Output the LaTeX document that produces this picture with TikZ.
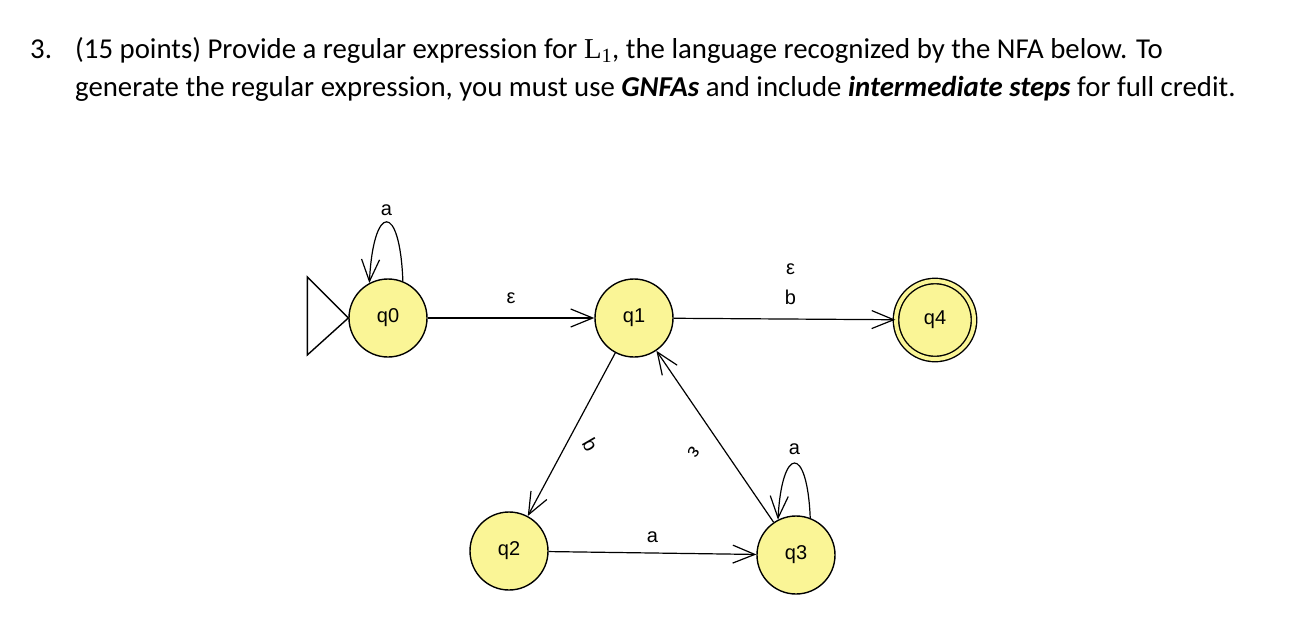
\documentclass[tikz,border=0pt]{standalone}
\usepackage{fontspec}
\setmainfont{Carlito}
\newfontfamily\jflapfont{Liberation Sans}
\newfontfamily\mathlike{Liberation Serif}
\usetikzlibrary{arrows.meta}
\definecolor{statefill}{RGB}{250,245,150}

\begin{document}
\begin{tikzpicture}[x=1pt,y=-1pt,
  nfastate/.style={draw,circle,fill=statefill,line width=1.4pt,minimum size=78pt,inner sep=0,
    font=\jflapfont\fontsize{20}{24}\selectfont},
  accepting/.style={double=statefill,double distance=4pt},
  edge/.style={line width=1.2pt,-{Straight Barb[length=22pt,width=18pt,line width=1.2pt]}},
  lbl/.style={font=\jflapfont\fontsize{20}{30}\selectfont,inner sep=1pt},
  qtext/.style={anchor=base west,inner sep=0,font=\fontsize{28.8}{38}\selectfont}]
  \useasboundingbox (0,0) rectangle (1315,638);
  % question text
  \node[qtext] (num) at (30,58) {3.};
  \node[qtext] (line1) at (75,58) {(15 points) Provide a regular expression for {\mathlike L\textsubscript{1}}, the language recognized by the NFA below. To};
  \node[qtext] (line2) at (75,96) {generate the regular expression, you must use \textbf{\textit{GNFAs}} and include \textbf{\textit{intermediate steps}} for full credit.};
  % states
  \node[nfastate] (q0) at (388,318) {q0};
  \node[nfastate] (q1) at (634,318) {q1};
  \node[nfastate,accepting] (q4) at (935,320) {q4};
  \node[nfastate] (q2) at (509,551) {q2};
  \node[nfastate] (q3) at (796,555) {q3};
  % start marker
  \draw[line width=1.4pt] (q0.west) -- ++(-41,-41) -- ++(0,78) -- cycle;
  % transitions
  \draw[edge] (q0) -- node[lbl,midway,yshift=20pt] {ε} (q1);
  \draw[edge] (q1) -- node[lbl,midway,xshift=6pt,yshift=35pt,align=center] {ε\\b} (q4);
  \draw[edge] (q1) -- node[lbl,pos=.56,xshift=24pt,rotate=-60] {b} (q2);
  \draw[edge] (q3) -- node[lbl,pos=.41,xshift=-32pt,rotate=-124] {ε} (q1);
  \draw[edge] (q2) -- node[lbl,midway,yshift=16pt] {a} (q3);
  % self loops
  \draw[edge] (q0.68) .. controls +(-3,-80) and +(4,-80) .. (q0.118)
    node[lbl,pos=.5,yshift=12pt] {a};
  \draw[edge] (q3.69) .. controls +(-3,-74) and +(4,-74) .. (q3.117)
    node[lbl,pos=.5,yshift=14pt] {a};
\end{tikzpicture}
\end{document}
